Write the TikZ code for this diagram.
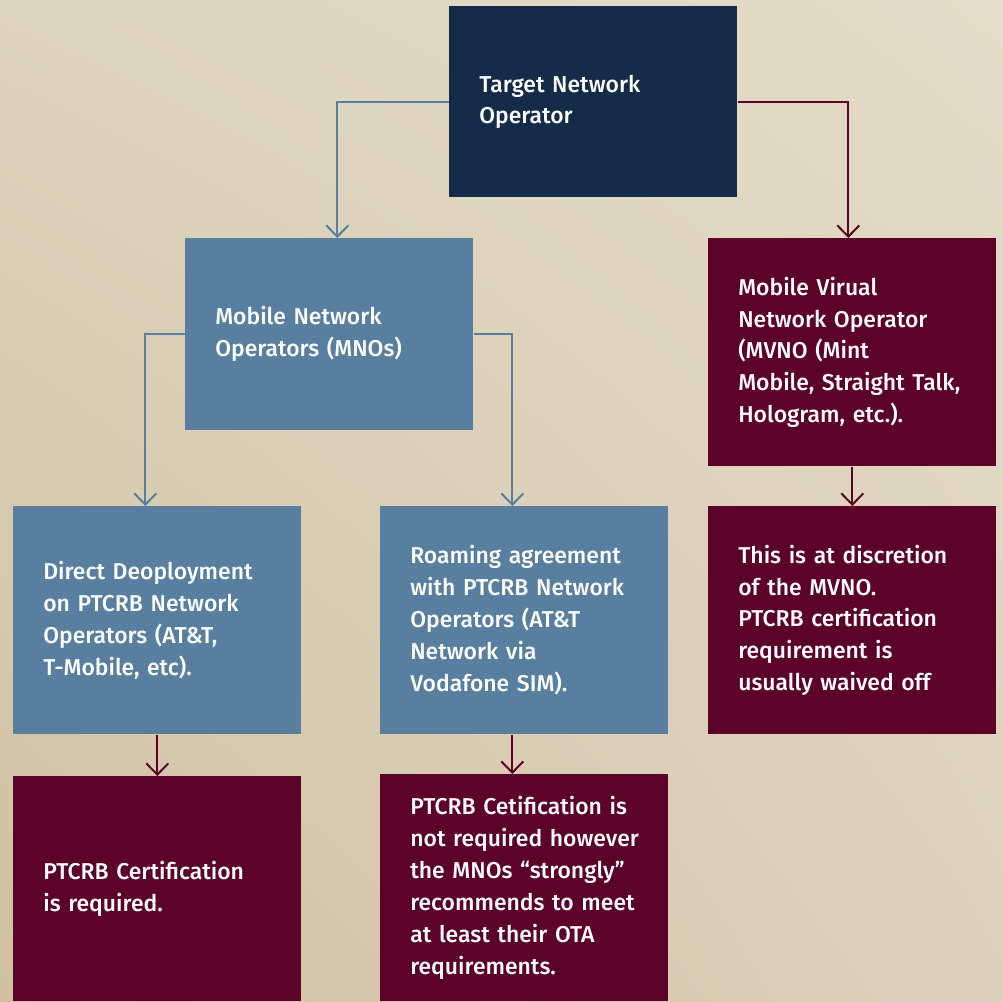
\documentclass[tikz,border=0pt]{standalone}
\usepackage{fontspec}
\setmainfont{Fira Sans}[UprightFont={* Medium}]
\usetikzlibrary{arrows.meta,shadings}
\definecolor{navy}{HTML}{142C4A}
\definecolor{steel}{HTML}{587EA0}
\definecolor{wine}{HTML}{5C0229}
\definecolor{sandUL}{HTML}{DDD4BC}
\definecolor{sandUR}{HTML}{E4DCC8}
\definecolor{sandLL}{HTML}{D0C0A0}
\definecolor{sandLR}{HTML}{DCD2BC}
\hyphenpenalty=10000
\hbadness=10000
\hfuzz=20pt

\begin{document}
\begin{tikzpicture}[x=0.025cm,y=-0.025cm,
    box/.style={anchor=north west,text=white,align=left,text width=5.7cm,
      inner xsep=0.75cm,inner ysep=0pt,font=\fontsize{16.3}{22.7}\selectfont},
    bluelink/.style={draw=steel,line width=1.4pt,-{Straight Barb[length=0.28cm,width=0.55cm]}},
    winelink/.style={bluelink,draw=wine}]
  \shade[upper left=sandUL,upper right=sandUR,lower left=sandLL,lower right=sandLR]
    (0,0) rectangle (1003,1001);
  \useasboundingbox (0,0) rectangle (1003,1001);

  \node[box,fill=navy,minimum height=4.775cm] (top) at (449,6) {Target Network\\Operator};
  \node[box,fill=steel,minimum height=4.8cm] (mno) at (185,238) {Mobile Network\\Operators (MNOs)};
  \node[box,fill=wine,minimum height=5.7cm] (mvno) at (708,238)
    {Mobile Virual\\Network Operator\\(MVNO (Mint\\Mobile, Straight~Talk,\\Hologram, etc.).};
  \node[box,fill=steel,minimum height=5.7cm] (direct) at (13,506)
    {Direct Deoployment\\on PTCRB Network\\Operators (AT\&T,\\T-Mobile, etc).};
  \node[box,fill=steel,minimum height=5.7cm] (roam) at (380,506)
    {Roaming agreement\\with PTCRB Network\\Operators (AT\&T\\Network via\\Vodafone SIM).};
  \node[box,fill=wine,minimum height=5.7cm] (waive) at (708,506)
    {This is at discretion\\of the MVNO.\\PTCRB certification\\requirement is\\usually waived off};
  \node[box,fill=wine,minimum height=5.625cm] (req) at (13,776) {PTCRB Certification\\is required.};
  \node[box,fill=wine,minimum height=5.675cm] (ota) at (380,774)
    {PTCRB Cetification is\\not~required~however\\the MNOs “strongly”\\recommends to meet\\at least their OTA\\requirements.};

  \draw[bluelink] (top.west) -| ([xshift=0.2cm]mno.north);
  \draw[winelink] (top.east) -| ([xshift=-0.1cm]mvno.north);
  \draw[bluelink] (mno.west) -| ([xshift=-0.3cm]direct.north);
  \draw[bluelink] (mno.east) -| ([xshift=-0.3cm]roam.north);
  \draw[winelink] (direct.south) -- (req.north);
  \draw[winelink] ([xshift=-0.3cm]roam.south) -- ([xshift=-0.3cm]ota.north);
  \draw[winelink] (mvno.south) -- (waive.north);
\end{tikzpicture}
\end{document}
